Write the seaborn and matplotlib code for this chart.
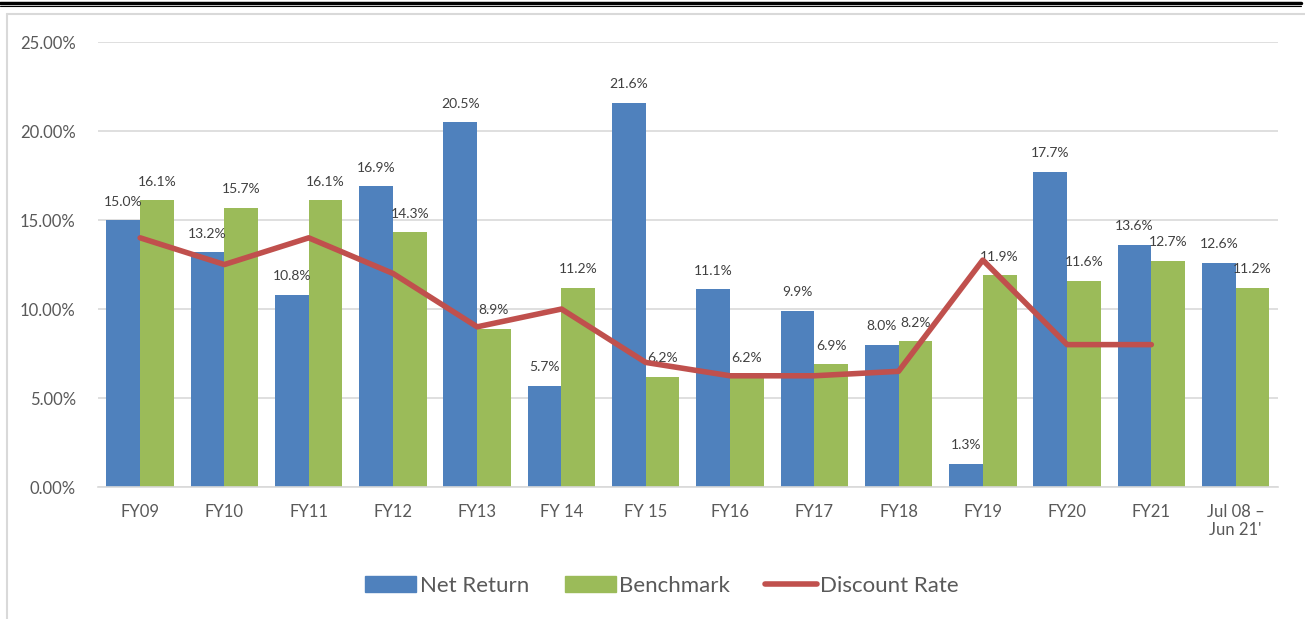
import numpy as np
import pandas as pd
import matplotlib
matplotlib.use('Agg')
import matplotlib.pyplot as plt
from matplotlib.lines import Line2D
from matplotlib.patches import Patch
from matplotlib.ticker import PercentFormatter
import seaborn as sns

periods = ['FY09', 'FY10', 'FY11', 'FY12', 'FY13', 'FY 14', 'FY 15', 'FY16',
           'FY17', 'FY18', 'FY19', 'FY20', 'FY21', 'Jul 08 –\nJun 21\'']
net_return = [15.0, 13.2, 10.8, 16.9, 20.5, 5.7, 21.6, 11.1, 9.9, 8.0, 1.3, 17.7, 13.6, 12.6]
benchmark = [16.1, 15.7, 16.1, 14.3, 8.9, 11.2, 6.2, 6.2, 6.9, 8.2, 11.9, 11.6, 12.7, 11.2]
discount_rate = [14.0, 12.5, 14.0, 12.0, 9.0, 10.0, 7.0, 6.25, 6.25, 6.5, 12.75, 8.0, 8.0, np.nan]

blue = '#4F81BD'
green = '#9BBB59'
red = '#C0504D'
grey_txt = '#595959'
grid = '#D9D9D9'

sns.set_style('white')
plt.rcParams['font.family'] = ['Lato', 'DejaVu Sans']

df = pd.DataFrame({
    'period': periods * 2,
    'series': ['Net Return'] * len(periods) + ['Benchmark'] * len(periods),
    'value': net_return + benchmark,
})

fig = plt.figure(figsize=(13.05, 6.19), dpi=100)
ax = fig.add_axes([0.0751, 0.2132, 0.904, 0.7189])

sns.barplot(data=df, x='period', y='value', hue='series', order=periods,
            hue_order=['Net Return', 'Benchmark'], palette=[blue, green],
            width=0.8, saturation=1, linewidth=0, legend=False, ax=ax)

x = np.arange(len(periods))
ax.plot(x, discount_rate, color=red, lw=4, solid_capstyle='round', zorder=4)

for container in ax.containers:
    labels = [f'{v:.1f}%' for v in container.datavalues]
    ax.bar_label(container, labels=labels, padding=9, fontsize=10, color='#404040')

ax.set_ylim(0, 25)
ax.set_xlim(-0.5, len(periods) - 0.5)
ax.set_yticks(np.arange(0, 26, 5))
ax.yaxis.set_major_formatter(PercentFormatter(decimals=2))
ax.grid(axis='y', color=grid, lw=1.2)
ax.set_axisbelow(True)
for s in ['top', 'right', 'left']:
    ax.spines[s].set_visible(False)
ax.spines['bottom'].set_color(grid)
ax.spines['bottom'].set_linewidth(1.2)
ax.tick_params(axis='both', length=0, labelsize=12, colors=grey_txt)
ax.tick_params(axis='y', pad=16)
ax.tick_params(axis='x', pad=12)
ax.set_xlabel('')
ax.set_ylabel('')

handles = [Patch(color=blue), Patch(color=green),
           Line2D([0], [0], color=red, lw=4, solid_capstyle='round')]
ax.legend(handles, ['Net Return', 'Benchmark', 'Discount Rate'], loc='center',
          bbox_to_anchor=(0.478, -0.222), ncol=3, frameon=False, fontsize=16,
          labelcolor=grey_txt, handlelength=2.3, handletextpad=0.15, columnspacing=1.6)

# outer frame
fig.add_artist(Line2D([0, 0.997], [1 - 3 / 619, 1 - 3 / 619], color='black', lw=2.5))
fig.add_artist(Line2D([0, 0.997], [1 - 6 / 619, 1 - 6 / 619], color='black', lw=0.8))
fig.add_artist(Line2D([7 / 1305, 1], [1 - 14 / 619, 1 - 14 / 619], color=grid, lw=1.5))
fig.add_artist(Line2D([7 / 1305, 7 / 1305], [0, 1 - 14 / 619], color=grid, lw=1.5))

fig.savefig('out.png', dpi=100)
